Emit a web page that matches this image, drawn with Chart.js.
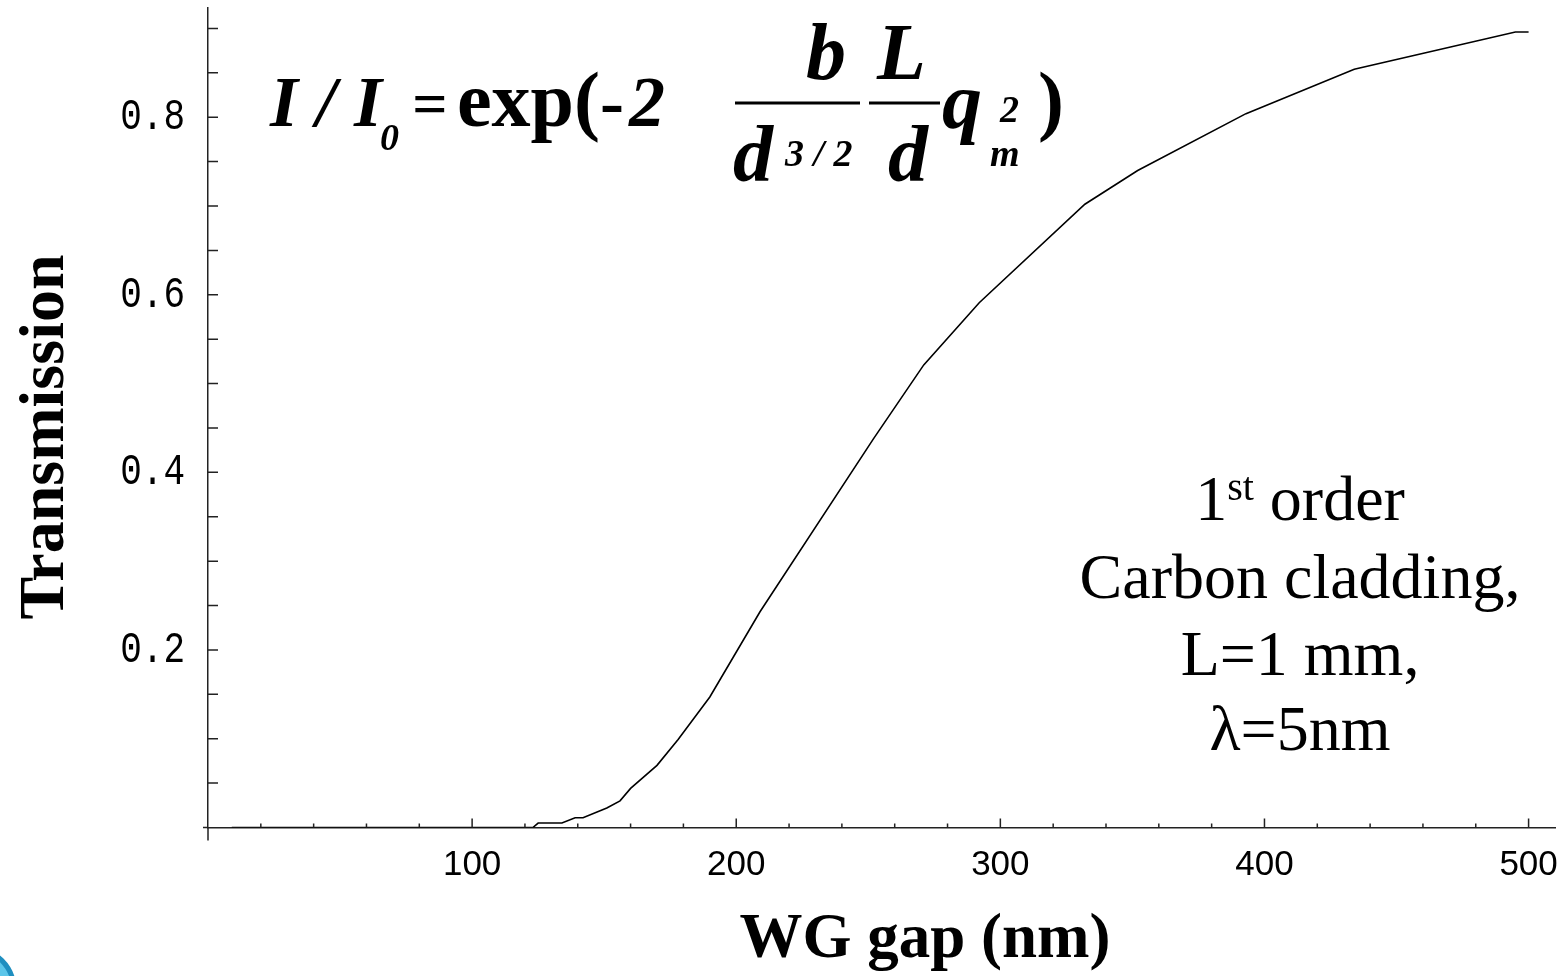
<!DOCTYPE html>
<html>
<head>
<meta charset="utf-8">
<script src="https://cdn.jsdelivr.net/npm/chart.js@4.4.1/dist/chart.umd.min.js"></script>
<style>
  html, body { margin: 0; padding: 0; background: #fff; }
  #wrap { width: 1562px; height: 976px; position: relative; }
</style>
</head>
<body>
<div id="wrap"><canvas id="plot"></canvas></div>
<script>
// ─── DATA ────────────────────────────────────────────────────
const gapNm = [9, 123, 125, 134, 139, 142, 151, 156, 160, 170, 178, 190, 209, 252, 271, 292, 332, 352, 393, 434, 495, 500];
const transmission = [0, 0, 0.005, 0.005, 0.011, 0.011, 0.022, 0.030, 0.044, 0.070, 0.099, 0.147, 0.243, 0.438, 0.521, 0.591, 0.702, 0.740, 0.804, 0.854, 0.896, 0.896];

const xTicks  = [20, 40, 60, 80, 100, 120, 140, 160, 180, 200, 220, 240, 260, 280, 300, 320, 340, 360, 380, 400, 420, 440, 460, 480, 500];
const xLabels = [100, 200, 300, 400, 500];
const yTicks  = [0.05, 0.1, 0.15, 0.2, 0.25, 0.3, 0.35, 0.4, 0.45, 0.5, 0.55, 0.6, 0.65, 0.7, 0.75, 0.8, 0.85, 0.9];
const yLabels = [0.2, 0.4, 0.6, 0.8];

const AXIS = '#222';
const SERIF = '"Liberation Serif", "Times New Roman", serif';

// ─── OVERLAY: ticks, labels, titles, formula, notes ──────────
function txt(ctx, s, x, y, font, align) {
    ctx.font = font;
    ctx.textAlign = align || 'left';
    ctx.fillText(s, x, y);
}

const overlay = {
    id: 'overlay',
    afterDraw(chart) {
        const { ctx, scales: { x, y } } = chart;
        const x0 = x.getPixelForValue(0);
        const y0 = y.getPixelForValue(0);
        ctx.save();
        ctx.strokeStyle = AXIS;
        ctx.lineWidth = 1.5;
        ctx.beginPath();
        // inward tick marks
        yTicks.forEach(v => {
            const py = y.getPixelForValue(v);
            ctx.moveTo(x0, py); ctx.lineTo(x0 + 10, py);
        });
        xTicks.forEach(v => {
            const px = x.getPixelForValue(v);
            const len = xLabels.includes(v) ? 9 : 4;
            ctx.moveTo(px, y0); ctx.lineTo(px, y0 - len);
        });
        // axes run a little past the origin
        ctx.moveTo(x0, y0); ctx.lineTo(x0, y0 + 13);
        ctx.moveTo(x0 - 5, y0); ctx.lineTo(x0, y0);
        ctx.stroke();

        ctx.fillStyle = '#000';

        // tick labels
        ctx.textBaseline = 'middle';
        yLabels.forEach(v => {
            const py = y.getPixelForValue(v);
            ctx.save();
            ctx.translate(185, py);
            ctx.scale(1, 1.25);
            txt(ctx, v.toFixed(1), 0, 0, '36px "Liberation Mono", "DejaVu Sans Mono", monospace', 'right');
            ctx.restore();
        });
        xLabels.forEach(v => {
            txt(ctx, String(v), x.getPixelForValue(v), 865, '35px "Liberation Sans", Arial, sans-serif', 'center');
        });
        ctx.textBaseline = 'alphabetic';

        // axis titles
        txt(ctx, 'WG gap (nm)', 925, 957, 'bold 63px ' + SERIF, 'center');
        ctx.save();
        ctx.translate(63, 437);
        ctx.rotate(-Math.PI / 2);
        txt(ctx, 'Transmission', 0, 0, 'bold 64px ' + SERIF, 'center');
        ctx.restore();

        // formula  I / I0 = exp(-2 b/d^(3/2) L/d qm^2)
        const BI = 'bold italic 72px ' + SERIF;
        const BF = 'bold italic 80px ' + SERIF;
        const B  = 'bold 78px ' + SERIF;
        const bs = 'bold italic 38px ' + SERIF;
        txt(ctx, 'I / I', 270, 126, BI);
        txt(ctx, '0', 380, 150, bs);
        txt(ctx, '=', 430, 124, 'bold 62px ' + SERIF, 'center');
        txt(ctx, 'exp(', 457, 126, B);
        txt(ctx, '-', 600, 126, 'bold 72px ' + SERIF);
        txt(ctx, '2', 629, 126, BI);
        ctx.fillRect(735, 101.5, 125, 3);
        txt(ctx, 'b', 806, 79, BF);
        txt(ctx, 'd', 733, 181, BF);
        txt(ctx, '3 / 2', 785, 166, bs);
        ctx.fillRect(869, 101.5, 71, 3);
        txt(ctx, 'L', 877, 79, BF);
        txt(ctx, 'd', 888, 181, BF);
        txt(ctx, 'q', 942, 128, BF);
        txt(ctx, '2', 1000, 122, bs);
        txt(ctx, 'm', 990, 166, bs);
        txt(ctx, ')', 1038, 126, B);

        // notes
        const R = '64px ' + SERIF;
        ctx.font = R;
        const w1 = ctx.measureText('1').width;
        const wo = ctx.measureText(' order').width;
        ctx.font = '40px ' + SERIF;
        const ws = ctx.measureText('st').width;
        let nx = 1300 - (w1 + ws + wo) / 2;
        txt(ctx, '1', nx, 520, R); nx += w1;
        txt(ctx, 'st', nx, 500, '40px ' + SERIF); nx += ws;
        txt(ctx, ' order', nx, 520, R);
        txt(ctx, 'Carbon cladding,', 1300, 598, R, 'center');
        txt(ctx, 'L=1 mm,', 1300, 675, R, 'center');
        txt(ctx, '\u03bb=5nm', 1300, 750, R, 'center');

        // corner logo fragment
        ctx.beginPath();
        ctx.arc(-28, 990, 42, 0, Math.PI * 2);
        ctx.fillStyle = '#5cc6ea';
        ctx.fill();
        ctx.strokeStyle = '#1f8fc0';
        ctx.lineWidth = 5;
        ctx.stroke();
        ctx.restore();
    }
};

// ─── CHART ───────────────────────────────────────────────────
new Chart(document.getElementById('plot'), {
    type: 'line',
    data: {
        datasets: [{
            data: gapNm.map((g, i) => ({ x: g, y: transmission[i] })),
            borderColor: '#000',
            borderWidth: 1.6,
            pointRadius: 0,
            tension: 0,
            fill: false
        }]
    },
    options: {
        responsive: true,
        maintainAspectRatio: false,
        animation: false,
        devicePixelRatio: 1,
        layout: { padding: { top: 8, right: 7, left: 0, bottom: 0 } },
        plugins: { legend: { display: false }, tooltip: { enabled: false } },
        scales: {
            x: {
                type: 'linear',
                min: 0,
                max: 510,
                afterBuildTicks: s => { s.ticks = xTicks.map(v => ({ value: v })); },
                afterFit: s => { s.height = 148.5; },
                grid: { display: false, drawTicks: false },
                border: { display: true, color: AXIS, width: 1.5 },
                ticks: { display: false }
            },
            y: {
                type: 'linear',
                min: 0,
                max: 0.923,
                afterBuildTicks: s => { s.ticks = yTicks.map(v => ({ value: v })); },
                afterFit: s => { s.width = 208; },
                grid: { display: false, drawTicks: false },
                border: { display: true, color: AXIS, width: 1.5 },
                ticks: { display: false }
            }
        }
    },
    plugins: [overlay]
});
</script>
</body>
</html>
